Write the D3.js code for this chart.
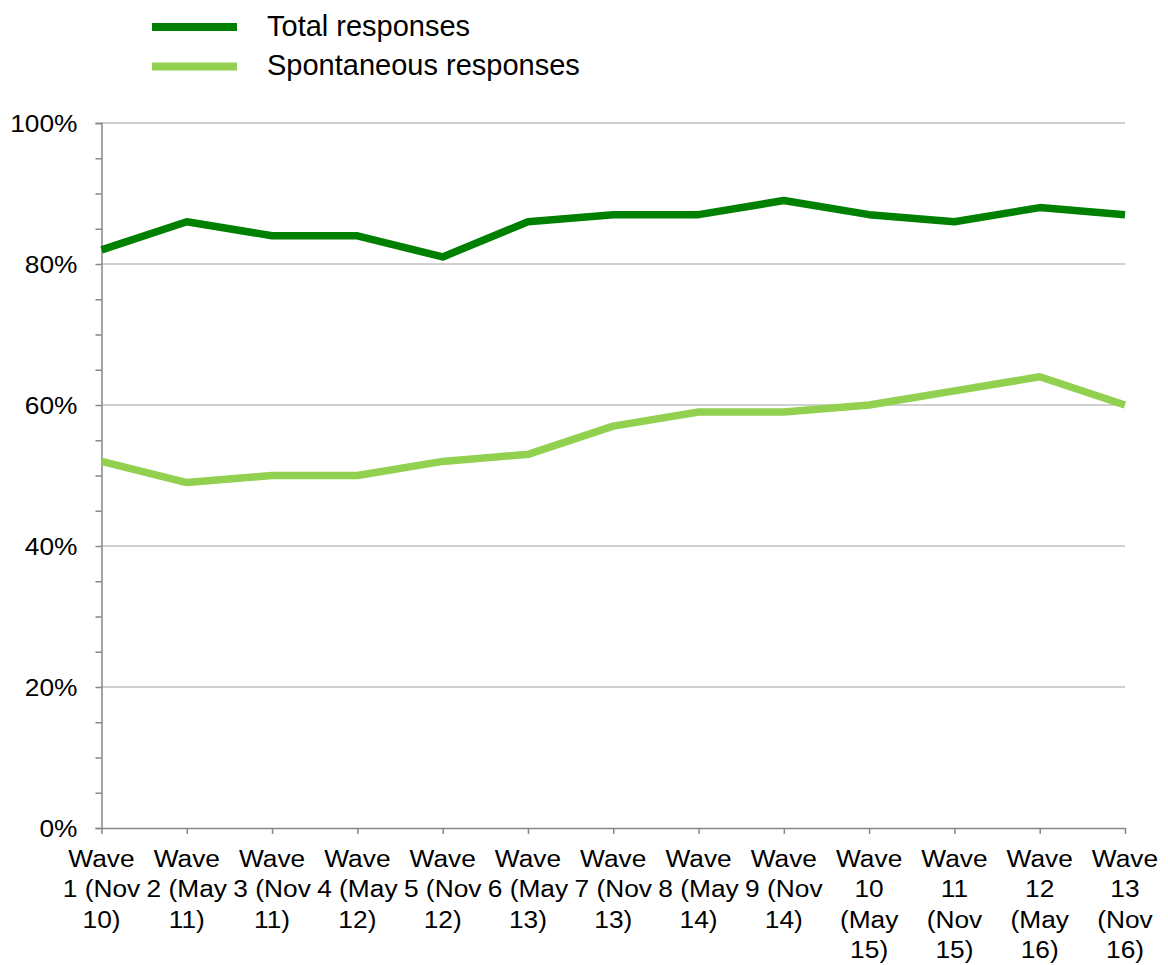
<!DOCTYPE html>
<html><head><meta charset="utf-8">
<script src="https://cdn.jsdelivr.net/npm/d3@7"></script>
<style>body{margin:0;background:#fff}svg{display:block}text{font-family:"Liberation Sans",Arial,sans-serif;fill:#000}</style>
</head><body><svg id="c" width="1168" height="965"></svg>
<script>
const waves = ["Wave 1 (Nov 10)","Wave 2 (May 11)","Wave 3 (Nov 11)","Wave 4 (May 12)","Wave 5 (Nov 12)","Wave 6 (May 13)","Wave 7 (Nov 13)","Wave 8 (May 14)","Wave 9 (Nov 14)","Wave 10 (May 15)","Wave 11 (Nov 15)","Wave 12 (May 16)","Wave 13 (Nov 16)"];
const totalResponses = [82,86,84,84,81,86,87,87,89,87,86,88,87];
const spontaneousResponses = [52,49,50,50,52,53,57,59,59,60,62,64,60];
const yTicks = [0,20,40,60,80,100];
const seriesNames = ["Total responses","Spontaneous responses"];
const seriesColors = ["#008000","#92d050"];

const svg = d3.select("#c");
const L=101.5, R=1125, T=123, B=828;
const FS=23.5, SX=1.12;
const x = d3.scalePoint().domain(waves).range([L,R]);
const y = d3.scaleLinear().domain([0,100]).range([B,T]);

// gridlines
svg.append("g").selectAll("line").data(yTicks.filter(d=>d>0)).join("line")
  .attr("x1",L).attr("x2",R).attr("y1",d=>y(d)).attr("y2",d=>y(d))
  .attr("stroke","#c0c0c0").attr("stroke-width",1.5);

// y axis
const yAxis = d3.axisLeft(y).tickValues(d3.range(0,101,5)).tickSize(6).tickFormat("");
const gy = svg.append("g").attr("transform",`translate(${L},0)`).call(yAxis);
gy.select(".domain").attr("stroke","#868686").attr("stroke-width",1.5);
gy.selectAll(".tick line").attr("stroke","#868686").attr("stroke-width",1.5);
svg.append("g").selectAll("text").data(yTicks).join("text")
  .attr("transform",d=>`translate(${L-24},${y(d)+8.5}) scale(${SX},1)`)
  .attr("text-anchor","end").attr("font-size",FS).text(d=>d+"%");

// x axis
const xAxis = d3.axisBottom(x).tickSize(6).tickSizeOuter(0).tickFormat("");
const gx = svg.append("g").attr("transform",`translate(0,${B})`).call(xAxis);
gx.select(".domain").attr("stroke","#868686").attr("stroke-width",1.5);
gx.selectAll(".tick line").attr("stroke","#868686").attr("stroke-width",1.5);

// wrapped x labels
const maxW = 86/SX;
const labG = svg.append("g");
waves.forEach(w=>{
  const t = labG.append("text").attr("text-anchor","middle").attr("font-size",FS)
    .attr("transform",`translate(${x(w)},867) scale(${SX},1)`);
  const words = w.split(" ");
  let lines=[], cur="";
  const probe = labG.append("text").attr("font-size",FS);
  words.forEach(wd=>{
    const test = cur? cur+" "+wd : wd;
    probe.text(test);
    if (cur && probe.node().getComputedTextLength()>maxW){lines.push(cur);cur=wd;} else cur=test;
  });
  lines.push(cur); probe.remove();
  lines.forEach((ln,i)=>t.append("tspan").attr("x",0).attr("dy",i?30.5:0).text(ln));
});

// lines
const line = d3.line().x((d,i)=>x(waves[i])).y(d=>y(d));
[totalResponses,spontaneousResponses].forEach((s,k)=>{
  svg.append("path").datum(s).attr("d",line).attr("fill","none")
    .attr("stroke",seriesColors[k]).attr("stroke-width",7.5).attr("stroke-linejoin","round");
});

// legend
seriesNames.forEach((n,k)=>{
  const cy = 27 + k*39.5;
  svg.append("line").attr("x1",152).attr("x2",237).attr("y1",cy).attr("y2",cy)
    .attr("stroke",seriesColors[k]).attr("stroke-width",8);
  svg.append("text").attr("x",267).attr("y",cy+8.5).attr("font-size",29).text(n);
});
</script></body></html>
